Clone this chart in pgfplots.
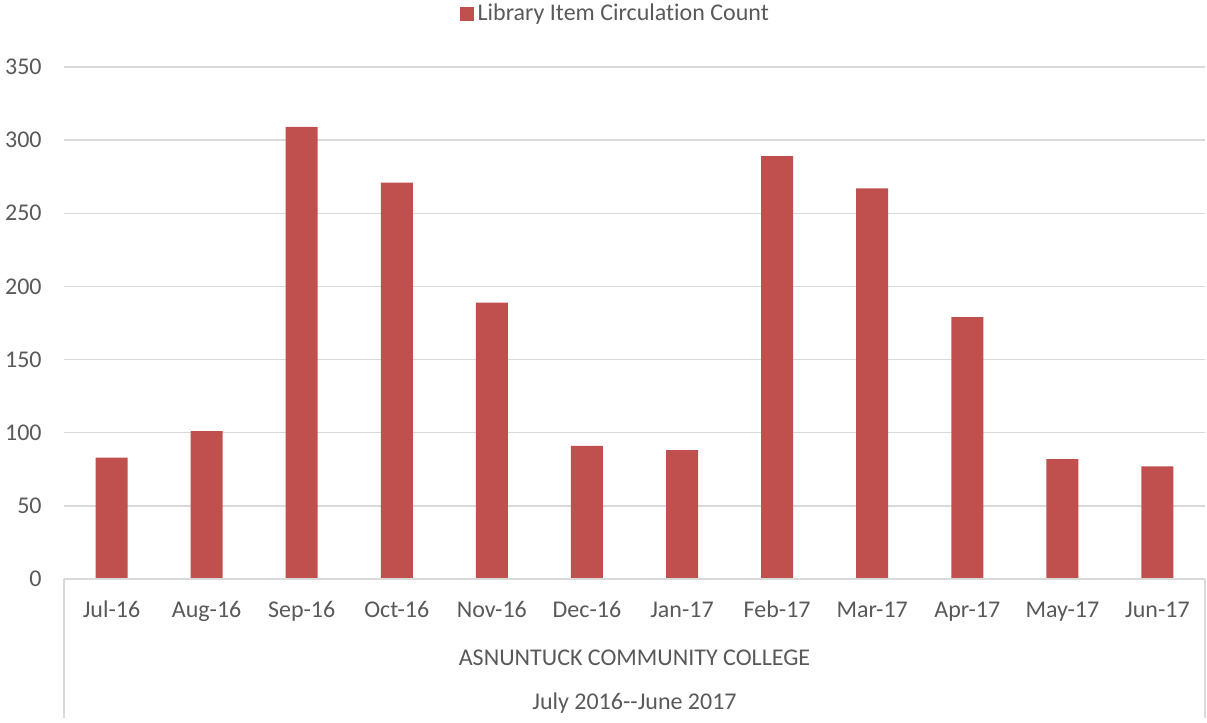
\documentclass[border=0pt]{standalone}
\usepackage{fontspec}
\setmainfont{Carlito}[Ligatures={NoCommon}]
\usepackage{pgfplots}
\pgfplotsset{compat=1.18}
\usetikzlibrary{calc}
\definecolor{barred}{HTML}{C0504D}
\definecolor{gridc}{HTML}{D9D9D9}
\definecolor{txt}{HTML}{595959}
\begin{document}
\fontsize{12}{14}\selectfont
\begin{tikzpicture}
\begin{axis}[
  scale only axis,
  width=570.5pt, height=256pt,
  xmin=-0.5, xmax=11.5, ymin=0, ymax=350,
  ytick={0,50,...,350},
  xtick={0,...,11},
  xticklabels={Jul-16,Aug-16,Sep-16,Oct-16,Nov-16,Dec-16,Jan-17,Feb-17,Mar-17,Apr-17,May-17,Jun-17},
  axis line style={draw=none},
  major tick length=0pt,
  ymajorgrids, grid style={gridc, line width=0.75pt},
  /pgf/number format/assume math mode=true,
  tick label style={font=\fontsize{12}{14}\selectfont, text=txt},
  yticklabel style={anchor=east, inner sep=0pt, xshift=-11pt},
  xticklabel style={anchor=base, inner sep=0pt, yshift=-19.25pt},
  legend style={at={(0.484,1)}, anchor=center, yshift=26.5pt, draw=none, fill=none,
    font=\fontsize{12}{14}\selectfont, text=txt, inner sep=0pt},
  ybar, bar width=16pt,
  clip=false,
]
\addplot[fill=barred, draw=none,
  legend image code/.code={\fill[barred] (0pt,-3.5pt) rectangle (7pt,3.5pt);}] coordinates {
 (0,83) (1,101) (2,309) (3,271) (4,189) (5,91) (6,88) (7,289) (8,267) (9,179) (10,82) (11,77)};
\addlegendentry{Library Item Circulation Count}
\draw[gridc, line width=0.75pt] (rel axis cs:0,0) -- (rel axis cs:1,0);
\draw[gridc, line width=0.75pt] (rel axis cs:0,0) -- ++(0pt,-69.5pt);
\draw[gridc, line width=0.75pt] (rel axis cs:1,0) -- ++(0pt,-69.5pt);
\node[anchor=base, text=txt, inner sep=0pt] at ($(rel axis cs:0.5,0)+(0pt,-43.5pt)$) {ASNUNTUCK COMMUNITY COLLEGE};
\node[anchor=base, text=txt, inner sep=0pt] at ($(rel axis cs:0.5,0)+(0pt,-65.5pt)$) {July 2016{-}{-}June 2017};
\end{axis}
\pgfresetboundingbox
\useasboundingbox ($(current axis.south west)+(-32pt,-72pt)$) rectangle ($(current axis.north east)+(1pt,33.5pt)$);
\end{tikzpicture}
\end{document}
